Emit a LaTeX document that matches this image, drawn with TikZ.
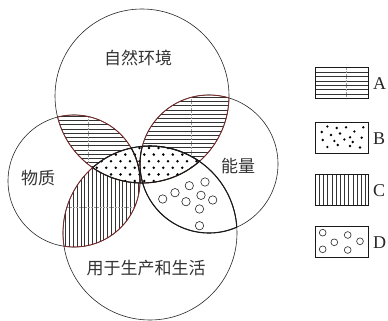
\documentclass[tikz,border=0pt]{standalone}
\usepackage{fontspec}
\setmainfont{Liberation Serif}
\newfontfamily\cjk{Noto Sans CJK SC}
\definecolor{lensred}{RGB}{125,40,40}
\begin{document}
\begin{tikzpicture}[x=1pt,y=-1pt,
  circ/.style={draw=black!85, line width=0.6pt},
  redline/.style={draw=lensred, line width=0.8pt},
  boldline/.style={draw=black!90, line width=1.1pt},
  hatch/.style={draw=black!80, line width=0.55pt},
  faint/.style={draw=black!40, line width=0.4pt, dash pattern=on 2pt off 1pt},
  ring/.style={draw=black!85, line width=0.6pt, fill=white},
  dotmark/.style={fill=black},
  lbl/.style={font=\cjk\fontsize{17}{17}\selectfont, text=black!80},
  key/.style={font=\fontsize{18}{18}\selectfont, anchor=west, inner sep=0pt, text=black!85},
  legbox/.style={draw=black!90, line width=0.7pt, minimum width=53pt, minimum height=31pt, inner sep=0pt}
]
\def\Tpath{(142,96) circle (87pt)}
\def\Lpath{(74,181) circle (66pt)}
\def\Rpath{(209,164) circle (69pt)}
\def\Bpath{(150,233) circle (87pt)}
\fill[white] (0,0) rectangle (388,321);
\useasboundingbox (0,0) rectangle (388,321);

% C : left and bottom, vertical lines
\begin{scope}
  \clip \Lpath; \clip \Bpath;
  \foreach \i in {0,...,26} \draw[hatch] ({58+\i*3.8},140) -- ++(0,120);
  \draw[faint] (55,207) -- (145,207);
\end{scope}

% D : right and bottom, small rings
\foreach \p in {(162.7,199),(175,192.7),(189.3,185.7),(205,182),(186,201.7),(201,195.3),(212.7,200),(199.5,209),(199.5,225.7)}
  \draw[ring] \p circle (4.2pt);

% A : top and left / top and right, horizontal lines
\begin{scope}
  \clip \Tpath; \clip \Lpath;
  \foreach \i in {0,...,20} \draw[hatch] (50,{112+\i*4.2}) -- ++(100,0);
  \draw[faint] (88,110) -- (88,190);
\end{scope}
\begin{scope}
  \clip \Tpath; \clip \Rpath;
  \foreach \i in {0,...,22} \draw[hatch] (135,{93+\i*4.2}) -- ++(100,0);
  \draw[faint] (191,90) -- (191,190);
\end{scope}

% B : top and bottom, dots
\begin{scope}
  \clip \Tpath;
  \fill[white] \Bpath;
  \clip \Bpath;
  \foreach \r in {0,...,6}
    \foreach \c in {0,...,12}
      \fill[dotmark] ({92+\c*9.5+mod(\r,2)*4.75},{148+\r*6.6}) circle (1.4pt);
\end{scope}

% circles
\draw[circ] \Tpath;
\draw[circ] \Lpath;
\draw[circ] \Rpath;
\draw[circ] \Bpath;

% red lens borders
\begin{scope}\clip \Tpath; \draw[redline] \Lpath; \draw[redline] \Rpath; \end{scope}
\begin{scope}\clip \Lpath; \draw[redline] \Tpath; \draw[redline] \Bpath; \end{scope}
\begin{scope}\clip \Rpath; \draw[redline] \Tpath; \end{scope}
\begin{scope}\clip \Bpath; \draw[redline] \Lpath; \end{scope}

% black bold borders
\begin{scope}\clip \Rpath; \draw[boldline] \Bpath; \end{scope}
\begin{scope}\clip \Bpath; \draw[boldline] \Rpath; \draw[boldline] \Tpath; \end{scope}
\begin{scope}\clip \Tpath; \draw[boldline] \Bpath; \end{scope}
\begin{scope}\clip \Tpath; \clip \Bpath; \draw[boldline] \Lpath; \end{scope}

% labels
\node[lbl] (ziran) at (138,58) {自然环境};
\node[lbl] (wuzhi) at (38,178) {物质};
\node[lbl] (nengliang) at (238,166) {能量};
\node[lbl] (yongyu) at (146,268) {用于生产和生活};

% legend A
\foreach \i in {1,...,6} \draw[hatch] (315,{68+\i*4.3}) -- (368,{68+\i*4.3});
\draw[faint] (346,68) -- (346,98);
\node[legbox] (boxA) at (341.5,83) {};
\node[key] (keyA) at (373,84) {A};

% legend B
\foreach \p in {(327.3,126.5),(336.7,128),(346,127.3),(354.3,131.5),(363.3,127.3),(321.7,132),(331,135),(340,133.5),(350,137.3),(361.7,137.7),(322.7,140),(334.3,141),(344.3,139.5),(352.7,142),(327.3,147),(337.7,145),(350,146),(360,147.5)}
  \fill[dotmark] \p circle (1.3pt);
\node[legbox] (boxB) at (341.5,137.5) {};
\node[key] (keyB) at (373,138.5) {B};

% legend C
\foreach \i in {1,...,12} \draw[hatch] ({315+\i*4.2},174) -- ({315+\i*4.2},206);
\node[legbox] (boxC) at (341.5,190) {};
\node[key] (keyC) at (373,191) {C};

% legend D
\foreach \p in {(322.7,232.7),(334.3,242.3),(322.7,249.3),(347.7,235),(360,241.3),(347.7,250)}
  \draw[ring] \p circle (3.4pt);
\node[legbox] (boxD) at (341.5,241.5) {};
\node[key] (keyD) at (373,242.5) {D};
\end{tikzpicture}
\end{document}
